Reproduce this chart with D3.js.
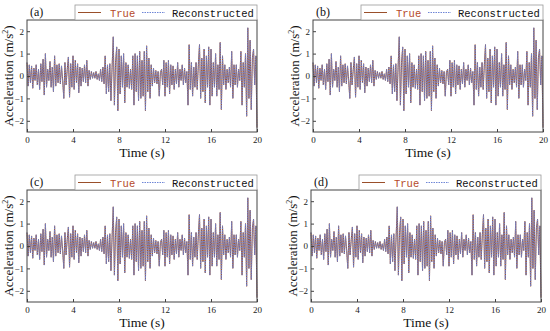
<html>
	<head>
		<meta charset="utf-8">
		<script src="https://cdn.jsdelivr.net/npm/d3@7"></script>
		<style>
			body { margin: 0; background: #fff; }
		</style>
	</head>
	<body>
		<script>

			// data (dt = 0.1 s)
			var panelLabels = ["(a)", "(b)", "(c)", "(d)"];
			var timeTicks = [0, 4, 8, 12, 16, 20];
			var accelTicks = [-2, -1, 0, 1, 2];
			var seriesNames = ["True", "Reconstructed"];
			var DT = 0.1;
			var trueAccel = [
				0.6, -0.45, 0.5, -0.3, 0.45, -0.55, 0.35, -0.2, 0.5, -0.4,
				0.3, -0.6, 0.55, -0.25, 0.75, -0.85, 1.0, -0.5, 0.3, -0.2,
				0.65, -0.5, 0.4, -0.7, 0.9, -0.45, 0.5, -0.3, 0.55, -0.35,
				0.45, -0.2, -1.0, 0.6, -0.4, 0.3, 0.85, -0.95, 0.55, -0.5,
				0.9, -0.6, 0.7, -0.3, 0.55, -0.75, 0.4, -0.45, 0.35, -0.25,
				0.5, -0.3, 0.7, -0.45, 0.25, -0.15, 0.2, -0.1, 0.15, -0.1,
				0.2, -0.15, 0.1, -0.2, 0.3, -0.25, 0.4, -0.35, 0.9, -0.8,
				0.5, -0.7, 0.55, -1.1, 0.4, 1.75, -1.3, 0.6, 1.3, -1.55,
				1.2, -0.8, 0.9, -0.5, 1.0, -1.2, 0.6, -0.5, 0.5, -0.55,
				0.3, -0.6, 0.9, -1.3, 1.0, -0.7, 0.9, -1.1, 1.1, -1.0,
				0.7, -0.9, 1.1, -1.55, 1.35, -0.7, 0.8, -1.0, 0.5, -0.45,
				0.35, -0.3, 0.25, -0.35, 0.2, -0.9, 0.15, 0.3, -0.4, 0.7,
				-0.9, 0.6, -0.5, 0.7, -0.8, 0.5, -0.4, 0.45, -0.6, 0.3,
				-0.35, 0.6, -0.5, 0.3, -0.2, 0.5, -0.4, 0.35, -0.3, 0.2,
				-1.3, 1.4, -0.6, 0.6, -0.9, 0.4, -0.5, 0.6, -0.6, 0.5,
				1.4, -1.0, 0.8, -0.7, 1.2, -1.2, 0.9, -0.5, 1.3, -1.3,
				1.2, -0.9, 0.6, -0.5, 1.0, -0.9, 0.5, -0.6, 1.5, -1.5,
				0.9, -0.4, 0.5, -0.6, 0.3, -0.3, 0.4, -0.5, 1.1, -1.0,
				0.5, -0.4, 0.5, -0.5, 0.3, -0.2, 1.1, -1.3, 0.6, -0.5,
				1.0, -1.8, 2.15, -1.0, 1.6, -1.5, 0.8, 1.2, -0.4, 0.9,
				-2.3
			];
			// reconstruction lies on top of the true record in every panel
			var reconAccel = trueAccel.slice();

			// view
			var W = 550, H = 331;
			var PLOT_W = 230, PLOT_H = 112;
			var panelPos = [[27, 20], [313, 20], [27, 190], [311, 190]];
			var TRUE_COLOR = "#9a4f2a";
			var RECON_COLOR = "#6f86d6";
			var SERIF = "'Liberation Serif', 'DejaVu Serif', serif";
			var MONO = "'Liberation Mono', 'DejaVu Sans Mono', monospace";

			var svg = d3.select("body").append("svg")
				.attr("width", W)
				.attr("height", H);

			var x = d3.scaleLinear().domain([0, 20]).range([0, PLOT_W]);
			var y = d3.scaleLinear().domain([-2.5, 2.5]).range([PLOT_H, 0]);

			var line = d3.line()
				.x(function(d, i) { return x(i * DT); })
				.y(function(d) { return y(d); });

			panelPos.forEach(function(p, k) {
				var g = svg.append("g").attr("transform", "translate(" + p[0] + "," + p[1] + ")");

				g.append("path")
					.datum(trueAccel)
					.attr("d", line)
					.attr("fill", "none")
					.attr("stroke", TRUE_COLOR)
					.attr("stroke-width", 1);
				g.append("path")
					.datum(reconAccel)
					.attr("d", line)
					.attr("fill", "none")
					.attr("stroke", RECON_COLOR)
					.attr("stroke-width", 0.9)
					.attr("stroke-dasharray", "1.5,1");

				// frame
				g.append("rect")
					.attr("width", PLOT_W)
					.attr("height", PLOT_H)
					.attr("fill", "none")
					.attr("stroke", "#444")
					.attr("stroke-width", 1);

				// axes
				var xa = g.append("g")
					.attr("transform", "translate(0," + PLOT_H + ")")
					.call(d3.axisBottom(x).tickValues(timeTicks).tickSize(-3).tickPadding(5).tickFormat(d3.format("d")));
				var ya = g.append("g")
					.call(d3.axisLeft(y).tickValues(accelTicks).tickSize(-3).tickPadding(3).tickFormat(d3.format("d")));
				[xa, ya].forEach(function(a) {
					a.select(".domain").remove();
					a.selectAll("line").attr("stroke", "#444");
					a.selectAll("text")
						.attr("font-family", SERIF)
						.attr("font-size", 9)
						.attr("fill", "#222");
				});

				g.append("text")
					.attr("x", PLOT_W / 2)
					.attr("y", PLOT_H + 25)
					.attr("text-anchor", "middle")
					.attr("font-family", SERIF)
					.attr("font-size", 13.5)
					.attr("fill", "#111")
					.text("Time (s)");

				var yl = g.append("text")
					.attr("transform", "translate(-14," + (PLOT_H / 2) + ") rotate(-90)")
					.attr("text-anchor", "middle")
					.attr("font-family", SERIF)
					.attr("font-size", 13)
					.attr("fill", "#111");
				yl.append("tspan").text("Acceleration (m/s");
				yl.append("tspan").attr("font-size", 8).attr("dy", -5).text("2");
				yl.append("tspan").attr("dy", 5).text(")");

				g.append("text")
					.attr("x", 3)
					.attr("y", -4)
					.attr("font-family", SERIF)
					.attr("font-size", 12)
					.attr("fill", "#111")
					.text(panelLabels[k]);

				// legend
				var lg = g.append("g").attr("transform", "translate(48,-15)");
				lg.append("rect")
					.attr("width", PLOT_W - 48)
					.attr("height", 15)
					.attr("fill", "#fff")
					.attr("stroke", "#999")
					.attr("stroke-width", 0.8);
				lg.append("line")
					.attr("x1", 3).attr("x2", 26)
					.attr("y1", 7.5).attr("y2", 7.5)
					.attr("stroke", TRUE_COLOR)
					.attr("stroke-width", 1);
				lg.append("text")
					.attr("x", 35).attr("y", 11.5)
					.attr("font-family", MONO)
					.attr("font-size", 10.5)
					.attr("fill", "#b5482a")
					.text(seriesNames[0]);
				lg.append("line")
					.attr("x1", 67).attr("x2", 90)
					.attr("y1", 7.5).attr("y2", 7.5)
					.attr("stroke", RECON_COLOR)
					.attr("stroke-width", 1)
					.attr("stroke-dasharray", "1.5,1");
				lg.append("text")
					.attr("x", 97).attr("y", 11.5)
					.attr("font-family", MONO)
					.attr("font-size", 10.5)
					.attr("fill", "#111")
					.text(seriesNames[1]);
			});

		</script>
	</body>
</html>
